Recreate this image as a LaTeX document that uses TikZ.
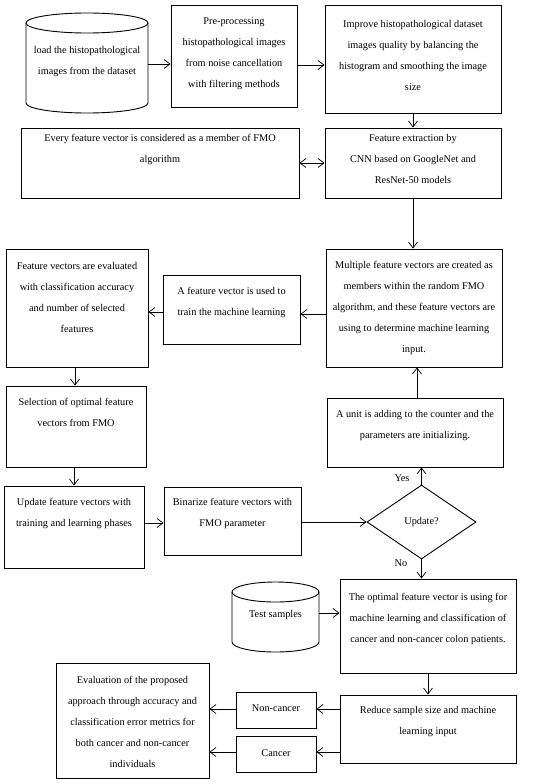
\documentclass[tikz,border=0pt]{standalone}
\usepackage{fontspec}
\setmainfont{Liberation Serif}
\usetikzlibrary{arrows.meta,shapes.geometric,calc}
\newcommand{\boxat}[5]{\node[box, minimum width={#4-#2}, minimum height={#5-#3}] (#1) at ({(#2+#4)/2},{(#3+#5)/2}) {};}
\newcommand{\txtat}[4]{\node[txt] (#1) at (#2,#3) {#4};}
% name x1 ytop x2 ybot ry
\newcommand{\cylat}[6]{%
  \node[minimum width={#4-#2}, minimum height={#5-#3}, inner sep=0pt] (#1) at ({(#2+#4)/2},{(#3+#5)/2}) {};
  \pgfmathsetmacro{\cx}{(#2+#4)/2}\pgfmathsetmacro{\rx}{(#4-#2)/2}
  \pgfmathsetmacro{\yt}{#3+#6}\pgfmathsetmacro{\yb}{#5-#6}
  \pgfmathsetmacro{\kx}{0.5523*\rx}\pgfmathsetmacro{\ky}{0.5523*#6}
  \draw[cyl] (\cx,\yt) ellipse [x radius=\rx, y radius=#6];
  \draw[cyl] (#2,\yt) -- (#2,\yb) .. controls (#2,\yb+\ky) and (\cx-\kx,#5) .. (\cx,#5)
     .. controls (\cx+\kx,#5) and (#4,\yb+\ky) .. (#4,\yb) -- (#4,\yt);
}
\begin{document}
\begin{tikzpicture}[x=1pt,y=-1pt,
  box/.style={draw, line width=0.9pt, rectangle, inner sep=0pt},
  cyl/.style={line width=0.9pt},
  txt/.style={align=center, inner sep=0pt, font=\fontsize{10.3}{21}\selectfont},
  lbl/.style={inner sep=0pt, font=\fontsize{10.3}{12}\selectfont},
  arr/.style={line width=0.7pt, -{Straight Barb[length=6pt,width=9pt]}},
  darr/.style={line width=0.7pt, {Straight Barb[length=6pt,width=9pt]}-{Straight Barb[length=6pt,width=9pt]}},
  dia/.style={draw, diamond, line width=0.9pt, inner sep=0pt, minimum width=109pt, minimum height=74pt, font=\fontsize{10.3}{12}\selectfont}
]
\fill[white] (0,0) rectangle (550,784);
\useasboundingbox (0,0) rectangle (550,784);

% row 1
\cylat{cyla}{26}{13}{148}{113}{10}
\txtat{cylat}{87}{62}{load the histopathological\\images from the dataset}
\boxat{pre}{171}{5}{297}{107}
\txtat{pret}{234}{54}{Pre-processing\\histopathological images\\from noise cancellation\\with filtering methods}
\boxat{imp}{325}{5}{501}{113}
\txtat{impt}{413}{55}{Improve histopathological dataset\\images quality by balancing the\\histogram and smoothing the image\\size}

% row 2
\boxat{every}{21}{128}{299}{198}
\txtat{everyt}{160}{149}{Every feature vector is considered as a member of FMO\\algorithm}
\boxat{fext}{325}{128}{501}{198}
\txtat{fextt}{413}{158.5}{Feature extraction by\\CNN based on GoogleNet and\\ResNet-50 models}

% row 3
\boxat{fvev}{6}{249}{148}{367}
\txtat{fvevt}{77}{297.5}{Feature vectors are evaluated\\with classification accuracy\\and number of selected\\features}
\boxat{used}{163}{275}{300}{344}
\txtat{usedt}{231.5}{302}{A feature vector is used to\\train the machine learning}
\boxat{multi}{326}{249}{502}{367}
\txtat{multit}{414}{308}{Multiple feature vectors are created as\\members within the random FMO\\algorithm, and these feature vectors are\\using to determine machine learning\\input.}

% row 4
\boxat{sel}{6}{386}{146}{467}
\txtat{selt}{76}{412.5}{Selection of optimal feature\\vectors from FMO}
\boxat{unit}{327}{398}{503}{467}
\txtat{unitt}{415}{425.5}{A unit is adding to the counter and the\\parameters are initializing.}

% row 5
\boxat{upd}{4}{486}{144}{568}
\txtat{updt}{74}{513.5}{Update feature vectors with\\training and learning phases}
\boxat{bin}{164}{487}{301}{555}
\txtat{bint}{232.5}{513.5}{Binarize feature vectors with\\FMO parameter}
\node[dia] (upq) at (421.5,522) {Update?};
\node[lbl] (yes) at (402,478) {Yes};
\node[lbl] (no) at (401,563) {No};

% row 6
\boxat{opt}{340}{579}{516}{673}
\txtat{optt}{428}{618.5}{The optimal feature vector is using for\\machine learning and classification of\\cancer and non-cancer colon patients.}
\cylat{test}{232}{582}{319}{652}{10}
\txtat{testt}{275.5}{615}{Test samples}

% row 7
\boxat{red}{340}{695}{516}{763}
\txtat{redt}{428}{722}{Reduce sample size and machine\\learning input}
\boxat{non}{236}{692}{316}{728}
\txtat{nont}{276}{708}{Non-cancer}
\boxat{can}{236}{736}{316}{772}
\txtat{cant}{276}{753}{Cancer}
\boxat{eval}{56}{663}{209}{778}
\txtat{evalt}{132.5}{721.5}{Evaluation of the proposed\\approach through accuracy and\\classification error metrics for\\both cancer and non-cancer\\individuals}

% connectors
\draw[arr] (cyla.east |- 0,64) -- (pre.west |- 0,64);
\draw[arr] (pre.east |- 0,65) -- (imp.west |- 0,65);
\draw[arr] (imp.south) -- (fext.north);
\draw[darr] (every.east |- 0,163) -- (fext.west |- 0,163);
\draw[arr] (fext.south) -- (fext.south |- multi.north);
\draw[arr] (multi.west |- 0,314) -- (used.east |- 0,314);
\draw[arr] (used.west |- 0,312) -- (fvev.east |- 0,312);
\draw[arr] (fvev.south -| 75,0) -- (sel.north -| 75,0);
\draw[arr] (sel.south -| 74,0) -- (upd.north -| 74,0);
\draw[arr] (upd.east |- 0,523) -- (bin.west |- 0,523);
\draw[arr] (bin.east |- upq.west) -- (upq.west);
\draw[arr] (upq.north) -- (upq.north |- unit.south);
\draw[arr] (unit.north -| 417,0) -- (multi.south -| 417,0);
\draw[arr] (upq.south) -- (upq.south |- opt.north);
\draw[arr] (test.east |- 0,613) -- (opt.west |- 0,613);
\draw[arr] (opt.south) -- (red.north);
\draw[arr] (red.west |- 0,709) -- (non.east |- 0,709);
\draw[arr] (red.west |- 0,752) -- (can.east |- 0,752);
\draw[arr] (non.west |- 0,709) -- (eval.east |- 0,709);
\draw[arr] (can.west |- 0,752) -- (eval.east |- 0,752);
\end{tikzpicture}
\end{document}
